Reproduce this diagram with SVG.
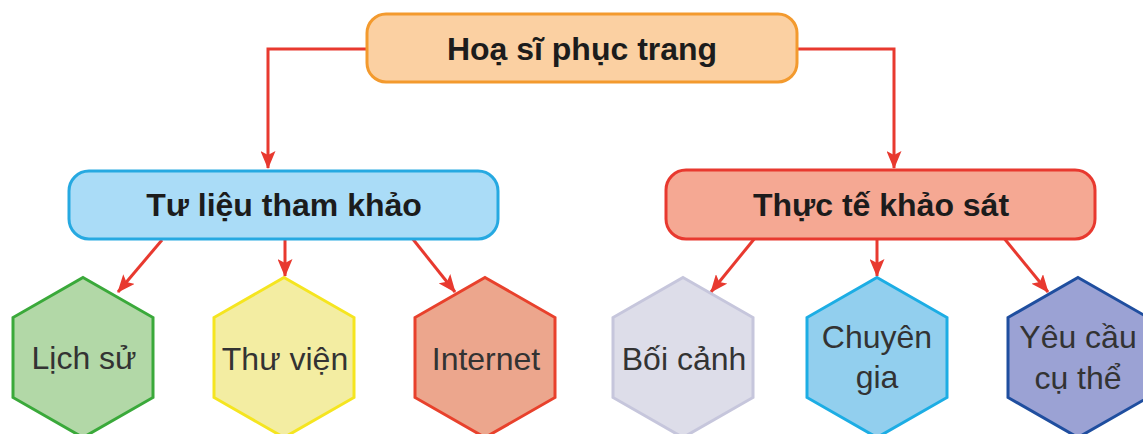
<svg xmlns="http://www.w3.org/2000/svg" width="1143" height="434" viewBox="0 0 1143 434">
<defs>
<marker id="arr" markerUnits="userSpaceOnUse" markerWidth="18" markerHeight="15" refX="17" refY="7.5" orient="auto">
<path d="M0,0 L18,7.5 L0,15 L4,7.5 z" fill="#e8392f"/>
</marker>
<style>
.box{stroke-width:3}
.hex{stroke-width:3;stroke-linejoin:miter}
.t1{font-family:"Liberation Sans",Arial,sans-serif;font-weight:bold;font-size:32px;fill:#1c1c1c;text-anchor:middle}
.t2{font-family:"Liberation Sans",Arial,sans-serif;font-size:32px;fill:#333333;text-anchor:middle}
.c{fill:none;stroke:#e8392f;stroke-width:3}
</style>
</defs>
<rect width="1143" height="434" fill="#ffffff"/>
<g id="connectors">
<path class="c" d="M367,49 H268 V168" marker-end="url(#arr)"/>
<path class="c" d="M797,49 H894 V168" marker-end="url(#arr)"/>
<path class="c" d="M162,240 L118,292" marker-end="url(#arr)"/>
<path class="c" d="M285,240 V276" marker-end="url(#arr)"/>
<path class="c" d="M412,238 L455,292" marker-end="url(#arr)"/>
<path class="c" d="M755,238 L711,292" marker-end="url(#arr)"/>
<path class="c" d="M877,240 V276" marker-end="url(#arr)"/>
<path class="c" d="M1003,237 L1048,292" marker-end="url(#arr)"/>
</g>
<g id="hoa-si-phuc-trang">
<rect class="box" x="367" y="14" width="430" height="68" rx="19" fill="#fbd0a2" stroke="#f39a2e"/>
<text class="t1" x="582" y="60">Hoạ sĩ phục trang</text>
</g>
<g id="tu-lieu-tham-khao">
<rect class="box" x="69" y="171" width="429" height="68" rx="20" fill="#aadcf7" stroke="#26a9e1"/>
<text class="t1" x="284" y="216">Tư liệu tham khảo</text>
</g>
<g id="thuc-te-khao-sat">
<rect class="box" x="666" y="170" width="429" height="69" rx="20" fill="#f5a893" stroke="#e8392f"/>
<text class="t1" x="881" y="216">Thực tế khảo sát</text>
</g>
<g id="lich-su">
<polygon class="hex" points="83,277.5 153,317.5 153,397.5 83,437.5 13,397.5 13,317.5" fill="#b2d8a7" stroke="#3aa93a"/>
<text class="t2" x="84" y="369">Lịch sử</text>
</g>
<g id="thu-vien">
<polygon class="hex" points="284,277.5 354,317.5 354,397.5 284,437.5 214,397.5 214,317.5" fill="#f3eda2" stroke="#f5e520"/>
<text class="t2" x="285" y="370">Thư viện</text>
</g>
<g id="internet">
<polygon class="hex" points="485,277.5 555,317.5 555,397.5 485,437.5 415,397.5 415,317.5" fill="#eca68d" stroke="#e8412c"/>
<text class="t2" x="486" y="370">Internet</text>
</g>
<g id="boi-canh">
<polygon class="hex" points="683,277.5 753,317.5 753,397.5 683,437.5 613,397.5 613,317.5" fill="#dddde9" stroke="#c6c6dc"/>
<text class="t2" x="684" y="370">Bối cảnh</text>
</g>
<g id="chuyen-gia">
<polygon class="hex" points="877,277.5 947,317.5 947,397.5 877,437.5 807,397.5 807,317.5" fill="#92cfee" stroke="#1cade4"/>
<text class="t2" x="877" y="348">Chuyên</text>
<text class="t2" x="877" y="388">gia</text>
</g>
<g id="yeu-cau-cu-the">
<polygon class="hex" points="1078,277.5 1148,317.5 1148,397.5 1078,437.5 1008,397.5 1008,317.5" fill="#9ba2d4" stroke="#1f4e9f"/>
<text class="t2" x="1078" y="348">Yêu cầu</text>
<text class="t2" x="1078" y="389">cụ thể</text>
</g>
</svg>
